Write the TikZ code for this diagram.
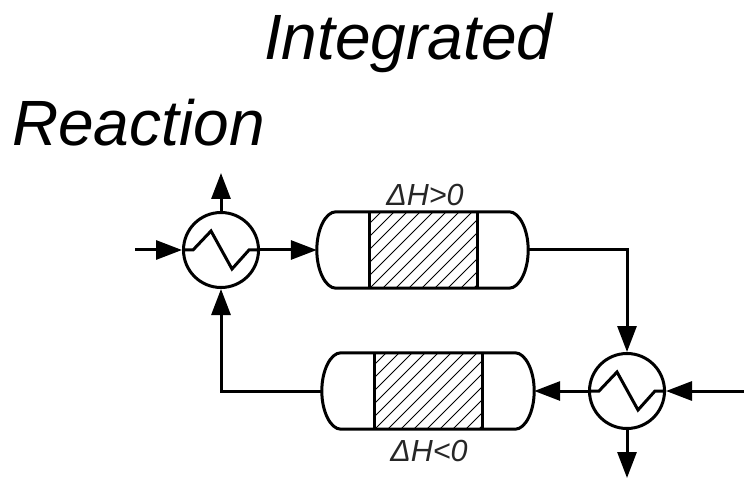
\documentclass[tikz,border=0pt]{standalone}
\usepackage{fontspec}
\setmainfont{Liberation Sans}
\usetikzlibrary{arrows.meta}
\tikzset{
  x=1pt,y=-1pt,
  hx/.style={circle,draw=black,line width=3pt,fill=white,minimum size=75pt,inner sep=0pt},
  rbox/.style={inner sep=0pt,minimum height=76pt},
  flow/.style={line width=3pt,-{Triangle[length=26pt,width=19pt]}},
  plain/.style={line width=3pt},
  coil/.style={line width=3pt,line join=miter},
  hatchline/.style={line width=1pt},
  title/.style={font=\fontsize{64}{70}\selectfont\itshape,inner sep=0pt,anchor=base west},
  dh/.style={font=\fontsize{30.5}{33}\selectfont\itshape,inner sep=0pt,text=black!85},
}
\newcommand{\reactorshape}[1]{%
  \begin{scope}
    \clip (#1bed.south west) rectangle (#1bed.north east);
    \foreach \k in {-8,...,16}{
      \draw[hatchline] ([xshift=\k*13pt]#1bed.south west) -- ++(76,-76);
    }
  \end{scope}
  \draw[plain] (#1bed.north west) -- (#1bed.south west) (#1bed.north east) -- (#1bed.south east);
  \draw[plain] (#1.west) .. controls ([yshift=21pt]#1.west) and ([xshift=9pt]#1.north west) .. ([xshift=19pt]#1.north west)
    -- ([xshift=-19pt]#1.north east)
    .. controls ([xshift=-9pt]#1.north east) and ([yshift=21pt]#1.east) .. (#1.east)
    .. controls ([yshift=-21pt]#1.east) and ([xshift=-9pt]#1.south east) .. ([xshift=-19pt]#1.south east)
    -- ([xshift=19pt]#1.south west)
    .. controls ([xshift=9pt]#1.south west) and ([yshift=-21pt]#1.west) .. cycle;
}
\newcommand{\coilshape}[1]{%
  \draw[coil] (#1.west) -- ++(11,0) -- ++(18,-19) -- ++(21,38) -- ++(17,-19) -- (#1.east);
}
\begin{document}
\begin{tikzpicture}
\useasboundingbox (0,0) rectangle (744,478);
\node[title] (t1) at (264,60) {Integrated};
\node[title] (t2) at (12,146) {Reaction};
\node[hx] (hx1) at (221,250) {};
\node[hx] (hx2) at (627,391) {};
\coilshape{hx1}
\coilshape{hx2}
\node[rbox,minimum width=211pt] (r1) at (422.5,250) {};
\node[rbox,minimum width=107pt] (r1bed) at (423.5,250) {};
\node[rbox,minimum width=212pt] (r2) at (428,391) {};
\node[rbox,minimum width=107pt] (r2bed) at (428.5,391) {};
\reactorshape{r1}
\reactorshape{r2}
\node[dh] (d1) at (425,195) {ΔH>0};
\node[dh] (d2) at (429,451) {ΔH<0};
\coordinate (in1) at (135,250);
\coordinate (in2) at (744,391);
\coordinate (out1) at (221,173);
\coordinate (out2) at (627,478);
\draw[flow] (in1) -- (hx1.west);
\draw[flow] (hx1.east) -- (r1.west);
\draw[flow] (hx1.north) -- (out1);
\draw[flow] (r1.east) -| (hx2.north);
\draw[flow] (in2) -- (hx2.east);
\draw[flow] (hx2.west) -- (r2.east);
\draw[flow] (hx2.south) -- (out2);
\draw[flow] (r2.west) -| (hx1.south);
\end{tikzpicture}
\end{document}
